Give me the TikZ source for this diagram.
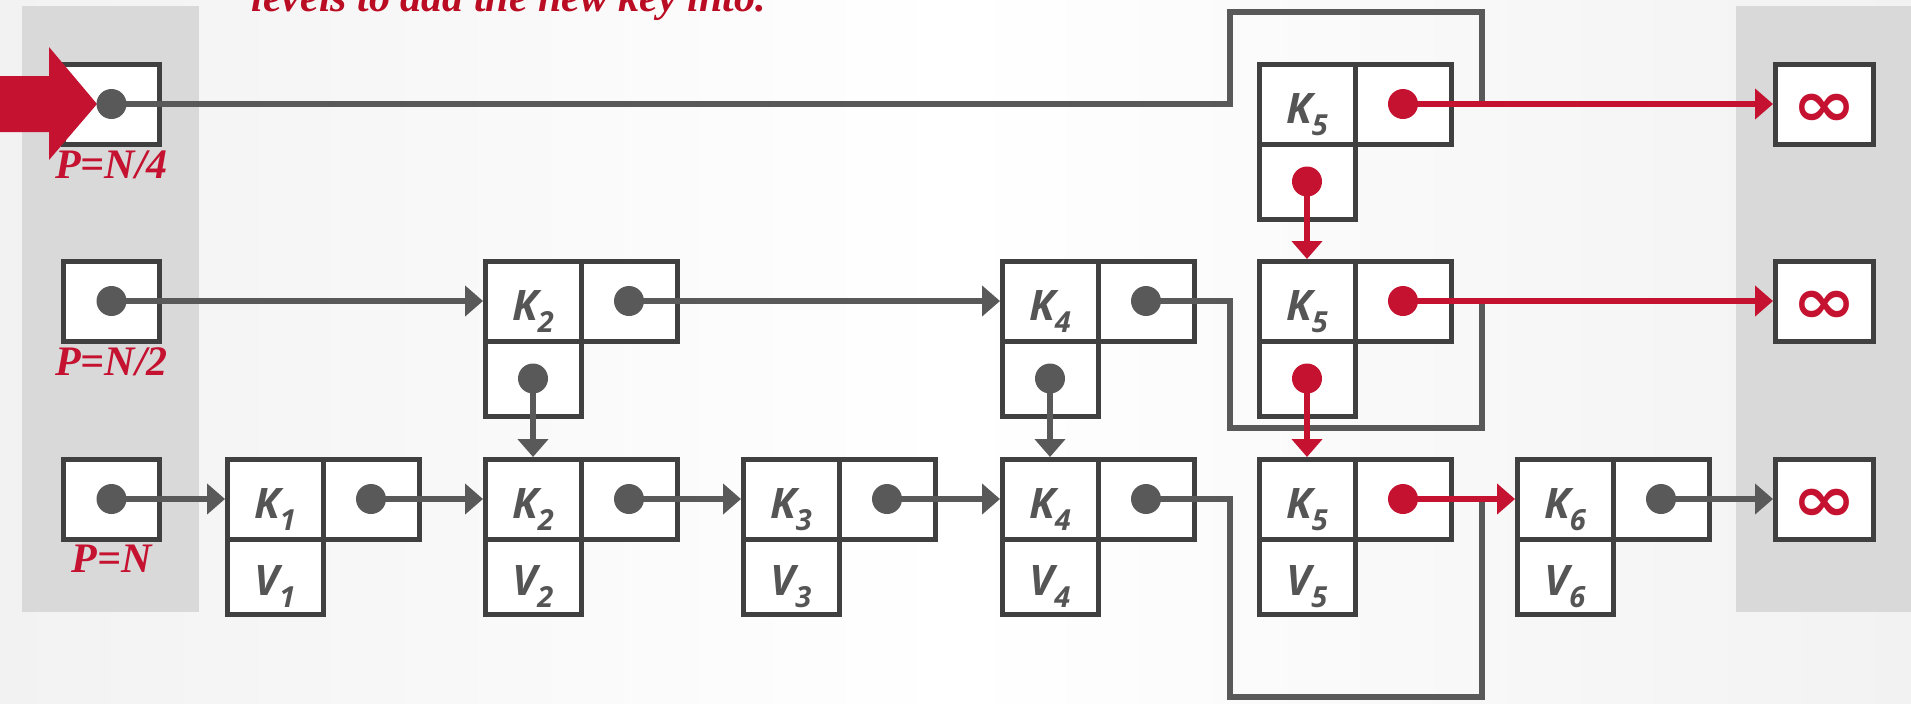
\documentclass[tikz,border=0pt]{standalone}
\usepackage{fontspec}
\setmainfont{Liberation Serif}
\setsansfont{Open Sans}
\newfontfamily\inffont{DejaVu Sans}
\usetikzlibrary{arrows.meta,positioning}
\definecolor{cmured}{HTML}{C41230}
\definecolor{notered}{HTML}{BA0C22}
\definecolor{boxgray}{HTML}{404040}
\definecolor{linegray}{HTML}{595959}
\definecolor{labelgray}{HTML}{555555}
\definecolor{panelgray}{HTML}{D9D9D9}
\definecolor{bgside}{HTML}{F2F2F2}
\newcommand{\kv}[2]{#1\raisebox{-6pt}{\fontsize{14.5}{14.5}\selectfont #2}}
\newcommand{\infsym}{\raisebox{-3pt}[\height][0pt]{\scalebox{1.2}[1]{∞}}}

\begin{document}
\begin{tikzpicture}[
  x=0.5pt, y=-0.5pt,
  box/.style={draw=boxgray, line width=2.5pt, fill=white, inner sep=0pt, outer sep=0pt,
    minimum width=48pt, minimum height=40pt},
  cell/.style={box, text height=19pt, text depth=0pt,
    font=\sffamily\bfseries\itshape\fontsize{21}{21}\selectfont, text=labelgray},
  lowcell/.style={cell, minimum height=37.5pt},
  infbox/.style={box, minimum width=49pt, font=\inffont\bfseries\fontsize{32}{32}\selectfont, text=cmured},
  plabel/.style={inner sep=0pt, font=\bfseries\itshape\fontsize{21}{21}\selectfont, text=cmured},
  dot/.style={circle, fill=#1, minimum size=15pt, inner sep=0pt, outer sep=0pt},
  dot/.default=linegray,
  arrow/.style={-{Triangle[length=9pt,width=15pt]}, line width=2.8pt, linegray, shorten >=1pt},
  redarrow/.style={arrow, cmured},
  detour/.style={line width=2.8pt, linegray}
]
\useasboundingbox (0,0) rectangle (1911,703);
\shade[left color=bgside, right color=bgside, middle color=white] (0,0) rectangle (1911,703);
\fill[panelgray] (22,6) rectangle (199,612);
\fill[panelgray] (1736,6) rectangle (1911,612);

\node[anchor=base west, inner sep=0pt, font=\bfseries\itshape\fontsize{21}{21}\selectfont, text=notered] (note) at (251,11) {levels to add the new key into.};

% head and tail boxes
\node[box] (h1) at (111.5,104) {};
\node[box] (h2) at (111.5,301) {};
\node[box] (h3) at (111.5,499) {};
\node[plabel, below=3pt of h1] (l1) {P=N/4};
\node[plabel, below=3pt of h2] (l2) {P=N/2};
\node[plabel, below=3pt of h3] (l3) {P=N};
\node[infbox] (i1) at (1824,104) {\infsym};
\node[infbox] (i2) at (1824,301) {\infsym};
\node[infbox] (i3) at (1824,499) {\infsym};

% level P=N
\node[cell] (k1) at (275,499) {\kv{K}{1}};
\node[box, right=0pt of k1] (p1) {};
\node[lowcell, below=0pt of k1] (v1) {\kv{V}{1}};
\node[cell] (k2) at (533,499) {\kv{K}{2}};
\node[box, right=0pt of k2] (p2) {};
\node[lowcell, below=0pt of k2] (v2) {\kv{V}{2}};
\node[cell] (k3) at (791,499) {\kv{K}{3}};
\node[box, right=0pt of k3] (p3) {};
\node[lowcell, below=0pt of k3] (v3) {\kv{V}{3}};
\node[cell] (k4) at (1050,499) {\kv{K}{4}};
\node[box, right=0pt of k4] (p4) {};
\node[lowcell, below=0pt of k4] (v4) {\kv{V}{4}};
\node[cell] (k5) at (1307,499) {\kv{K}{5}};
\node[box, right=0pt of k5] (p5) {};
\node[lowcell, below=0pt of k5] (v5) {\kv{V}{5}};
\node[cell] (k6) at (1565,499) {\kv{K}{6}};
\node[box, right=0pt of k6] (p6) {};
\node[lowcell, below=0pt of k6] (v6) {\kv{V}{6}};

% level P=N/2
\node[cell] (m2) at (533,301) {\kv{K}{2}};
\node[box, right=0pt of m2] (m2p) {};
\node[lowcell, below=0pt of m2] (m2d) {};
\node[cell] (m4) at (1050,301) {\kv{K}{4}};
\node[box, right=0pt of m4] (m4p) {};
\node[lowcell, below=0pt of m4] (m4d) {};
\node[cell] (m5) at (1307,301) {\kv{K}{5}};
\node[box, right=0pt of m5] (m5p) {};
\node[lowcell, below=0pt of m5] (m5d) {};

% level P=N/4
\node[cell] (t5) at (1307,104) {\kv{K}{5}};
\node[box, right=0pt of t5] (t5p) {};
\node[lowcell, below=0pt of t5] (t5d) {};

% entry arrow
\fill[cmured] (-5,76) -- (49,76) -- (49,47) -- (97,104) -- (49,160) -- (49,132) -- (-5,132) -- cycle;

% pointers
\node[dot] (h1dot) at (h1) {};
\node[dot] (h2dot) at (h2) {};
\node[dot] (h3dot) at (h3) {};
\node[dot] (p1dot) at (p1) {};
\node[dot] (p2dot) at (p2) {};
\node[dot] (p3dot) at (p3) {};
\node[dot] (p4dot) at (p4) {};
\node[dot=cmured] (p5dot) at (p5) {};
\node[dot] (p6dot) at (p6) {};
\node[dot] (m2pdot) at (m2p) {};
\node[dot] (m2ddot) at (m2d) {};
\node[dot] (m4pdot) at (m4p) {};
\node[dot] (m4ddot) at (m4d) {};
\node[dot=cmured] (m5pdot) at (m5p) {};
\node[dot=cmured] (m5ddot) at (m5d) {};
\node[dot=cmured] (t5pdot) at (t5p) {};
\node[dot=cmured] (t5ddot) at (t5d) {};

\coordinate (j1) at (1482,104);
\coordinate (j2) at (1482,301);
\coordinate (j3) at (1482,499);

\draw[detour] (h1dot.center) -| (1230,12) -| (j1);
\draw[detour] (m4pdot.center) -| (1230,428) -| (j2);
\draw[detour] (p4dot.center) -| (1230,697) -| (j3);

\draw[arrow] (h2dot.center) -- (m2.west);
\draw[arrow] (m2pdot.center) -- (m4.west);
\draw[arrow] (m2ddot.center) -- (k2.north);
\draw[arrow] (m4ddot.center) -- (k4.north);
\draw[arrow] (h3dot.center) -- (k1.west);
\draw[arrow] (p1dot.center) -- (k2.west);
\draw[arrow] (p2dot.center) -- (k3.west);
\draw[arrow] (p3dot.center) -- (k4.west);
\draw[arrow] (p6dot.center) -- (i3.west);

\draw[redarrow] (t5pdot.center) -- (i1.west);
\draw[redarrow] (t5ddot.center) -- (m5.north);
\draw[redarrow] (m5pdot.center) -- (i2.west);
\draw[redarrow] (m5ddot.center) -- (k5.north);
\draw[redarrow] (p5dot.center) -- (k6.west);
\end{tikzpicture}
\end{document}
